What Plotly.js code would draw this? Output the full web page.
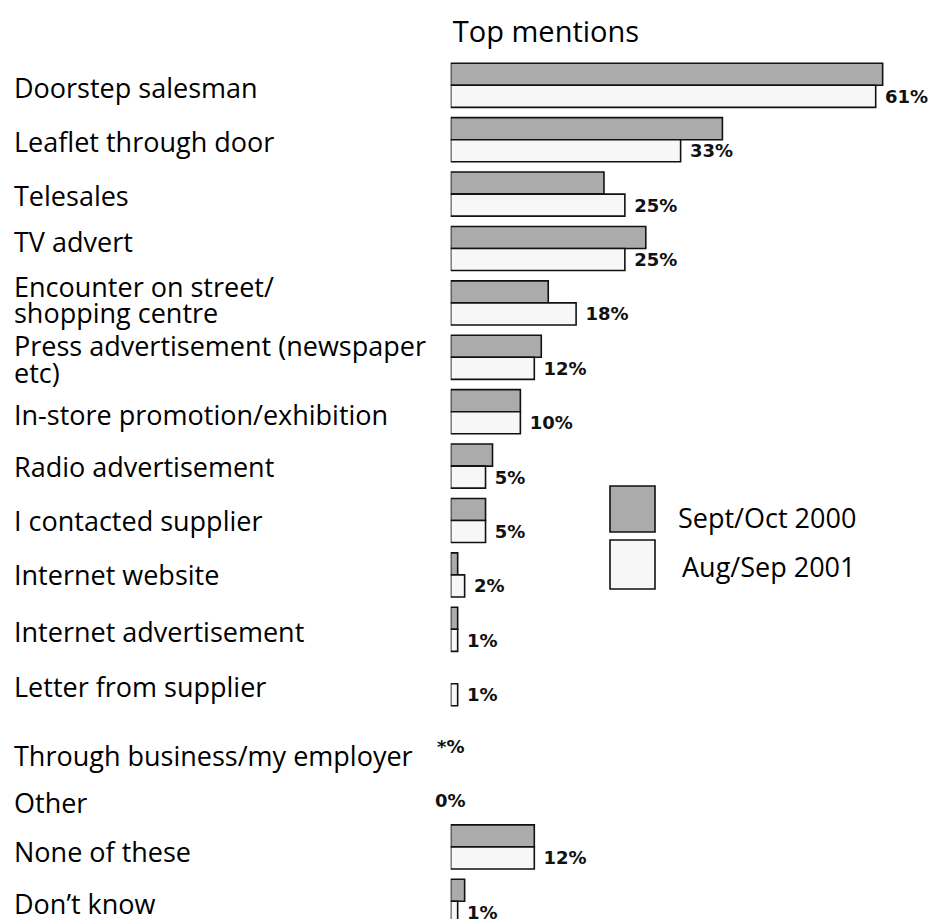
<!DOCTYPE html>
<html>
<head>
<meta charset="utf-8">
<script src="https://cdn.plot.ly/plotly-3.0.1.min.js"></script>
<style>html,body{margin:0;padding:0;background:#fff;}#chart{width:931px;height:919px;}</style>
</head>
<body>
<div id="chart"></div>
<script>
// ---- data ----
const categories = [
  'Doorstep salesman',
  'Leaflet through door',
  'Telesales',
  'TV advert',
  'Encounter on street/\nshopping centre',
  'Press advertisement (newspaper\netc)',
  'In-store promotion/exhibition',
  'Radio advertisement',
  'I contacted supplier',
  'Internet website',
  'Internet advertisement',
  'Letter from supplier',
  'Through business/my employer',
  'Other',
  'None of these',
  'Don\u2019t know'
];
const seriesNames = ['Sept/Oct 2000', 'Aug/Sep 2001'];
const values2000 = [62, 39, 22, 28, 14, 13, 10, 6, 5, 1, 1, 0, 0, 0, 12, 2];
const values2001 = [61, 33, 25, 25, 18, 12, 10, 5, 5, 2, 1, 1, 0, 0, 12, 1];
const labels2001 = ['61%', '33%', '25%', '25%', '18%', '12%', '10%', '5%', '5%', '2%', '1%', '1%', '*%', '0%', '12%', '1%'];
const chartTitle = 'Top mentions';

// ---- style / layout helpers ----
const W = 931, H = 919;
const GREY = '#ababab', WHITE = '#f7f7f7', EDGE = '#111111';
const labelFont = {family: 'Open Sans, Noto Sans, sans-serif', size: 27, color: '#000'};
const valueFont = {family: 'DejaVu Sans, sans-serif', size: 18, color: '#111', weight: 'bold'};
// vertical nudges (px, positive = up) for each line of the category labels
const labelShifts = [[-2], [-2], [-1], [7], [16, -10], [12, -15], [-3], [0], [0], [0], [-2], [-3], [-17], [-10], [-5], [-2]];

const catKeys = categories.map((c, i) => 'c' + i);
const edgeWidths = vals => vals.map(v => v > 0 ? 1.6 : 0);

const traces = [
  {
    type: 'bar', orientation: 'h', name: seriesNames[0],
    y: catKeys, x: values2000,
    marker: {color: GREY, line: {color: EDGE, width: edgeWidths(values2000)}},
    hoverinfo: 'skip', showlegend: false
  },
  {
    type: 'bar', orientation: 'h', name: seriesNames[1],
    y: catKeys, x: values2001,
    text: labels2001.map((t, i) => values2001[i] > 0 ? '\u00a0' + t : ''),
    textposition: 'outside', cliponaxis: false, constraintext: 'none',
    textfont: valueFont, outsidetextfont: valueFont,
    marker: {color: WHITE, line: {color: EDGE, width: edgeWidths(values2001)}},
    hoverinfo: 'skip', showlegend: false
  }
];

const annotations = [];
categories.forEach((c, i) => {
  const lines = c.split('\n');
  lines.forEach((ln, j) => {
    annotations.push({
      xref: 'paper', yref: 'y', x: 12 / W, y: catKeys[i],
      xanchor: 'left', yanchor: 'middle', showarrow: false,
      text: ln, font: labelFont, yshift: labelShifts[i][j] || 0
    });
  });
  if (values2001[i] === 0 && values2000[i] === 0) {
    annotations.push({
      xref: 'x', yref: 'y', x: 0, y: catKeys[i],
      xanchor: 'center', yanchor: 'middle', showarrow: false,
      text: labels2001[i], font: valueFont, yshift: -8
    });
  }
});

// legend drawn manually (large swatches)
const legendBoxes = [
  {x0: 610, x1: 655, y0: 486, y1: 532, fill: GREY, label: seriesNames[0], tx: 676, ty: 517},
  {x0: 610, x1: 655, y0: 540, y1: 589, fill: WHITE, label: seriesNames[1], tx: 680, ty: 566}
];
const shapes = legendBoxes.map(b => ({
  type: 'rect', xref: 'paper', yref: 'paper',
  x0: b.x0 / W, x1: b.x1 / W, y0: 1 - b.y1 / H, y1: 1 - b.y0 / H,
  fillcolor: b.fill, line: {color: EDGE, width: 1.6}
}));
legendBoxes.forEach(b => annotations.push({
  xref: 'paper', yref: 'paper', x: b.tx / W, y: 1 - b.ty / H,
  xanchor: 'left', yanchor: 'middle', showarrow: false,
  text: b.label, font: labelFont
}));

const pxPerPct = 6.967;
const x0px = 450.7;
const rowPitch = 54.4;
const topPx = 85.3 - rowPitch / 2;

const layout = {
  width: W, height: H,
  margin: {l: 0, r: 0, t: 0, b: 0, pad: 0},
  paper_bgcolor: '#fff', plot_bgcolor: '#fff',
  title: {text: chartTitle, x: 546 / W, xanchor: 'center', xref: 'paper', y: 1 - 32 / H, yanchor: 'middle', yref: 'container',
          font: {family: 'Open Sans, Noto Sans, sans-serif', size: 29, color: '#000'}},
  barmode: 'group', bargap: 0.19, bargroupgap: 0,
  xaxis: {domain: [x0px / W, 1], range: [0, (W - x0px) / pxPerPct], showgrid: false, zeroline: false,
          showticklabels: false, showline: false, ticks: '', fixedrange: true},
  yaxis: {type: 'category', domain: [0, 1 - topPx / H], range: [-0.5 + (H - topPx) / rowPitch, -0.5],
          showgrid: false, zeroline: false, showticklabels: false, showline: false, ticks: '', fixedrange: true},
  annotations: annotations,
  shapes: shapes,
  showlegend: false
};

Plotly.newPlot('chart', traces, layout, {displayModeBar: false, staticPlot: true});
</script>
</body>
</html>
